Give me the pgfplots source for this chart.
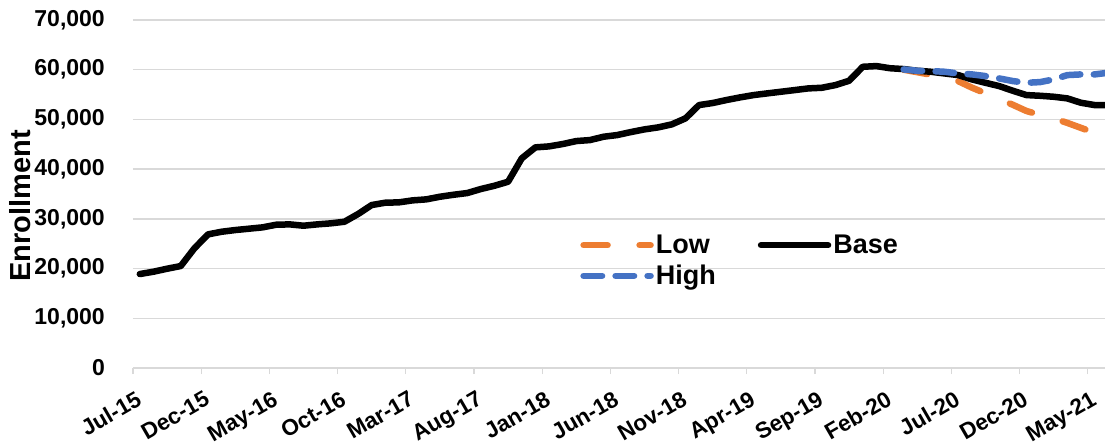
\documentclass[border=0pt]{standalone}
\usepackage{fontspec}
\setmainfont{Liberation Sans}
\usepackage{pgfplots}
\pgfplotsset{compat=1.18}
\definecolor{lowc}{HTML}{ED7D31}
\definecolor{highc}{HTML}{4472C4}
\definecolor{gridc}{HTML}{D9D9D9}
\begin{document}
\begin{tikzpicture}
\useasboundingbox (-133pt,-77pt) rectangle (972pt,368pt);
\begin{axis}[
  at={(0pt,0pt)}, anchor=south west,
  scale only axis, width=972pt, height=348pt,
  xmin=-0.5, xmax=70.76, ymin=0, ymax=70000,
  axis lines*=left,
  y axis line style={draw=none},
  x axis line style={draw=gridc, line width=1.3pt},
  ymajorgrids, grid style={draw=gridc, line width=1.3pt},
  ytick={0,10000,...,70000},
  ytick style={draw=none},
  xtick={-0.5,4.5,...,69.5},
  xticklabels={Jul-15,Dec-15,May-16,Oct-16,Mar-17,Aug-17,Jan-18,Jun-18,Nov-18,Apr-19,Sep-19,Feb-20,Jul-20,Dec-20,May-21},
  xtick style={draw=gridc, line width=1.3pt},
  tick align=outside, major tick length=6pt,
  scaled y ticks=false,
  /pgf/number format/.cd, 1000 sep={,}, assume math mode=true, /pgfplots/.cd,
  yticklabel style={font=\bfseries\fontsize{23}{27}\selectfont, anchor=east, inner sep=0pt, xshift=-22pt},
  xticklabel style={font=\bfseries\fontsize{22.5}{27}\selectfont, inner sep=0pt, xshift=2pt, yshift=-16pt, rotate=30, anchor=north east},
  ylabel={\bfseries\fontsize{29}{34}\selectfont Enrollment},
  every axis y label/.style={at={(rel axis cs:0,0.466)}, xshift=-113pt, rotate=90, anchor=center},
  legend columns=2,
  legend cell align=left,
  legend style={at={(rel axis cs:0.46,0.388)}, anchor=north west, draw=none, fill=none,
    font=\bfseries\fontsize{27}{31}\selectfont, inner sep=0pt, row sep=6pt,
    /tikz/every even column/.append style={column sep=40pt}},
  legend image code/.code={\draw[#1] (3pt,0pt) -- (70pt,0pt);},
  every axis plot/.append style={line width=6.5pt, line cap=round, line join=round},
]
\addplot[lowc, dash pattern=on 24pt off 32pt] coordinates {
(56,60000) (57,59500) (58,59000) (59,58500) (60,57700) (61,56400) (62,55250)
(63,54100) (64,52950) (65,51700) (66,50900) (67,50200) (68,49300) (69,48300) (70,47300)
};
\addlegendentry{Low}
\addplot[black] coordinates {
(0,18900) (1,19370) (2,19970) (3,20510) (4,24070) (5,26880) (6,27410) (7,27750)
(8,28020) (9,28290) (10,28820) (11,28890) (12,28620) (13,28890) (14,29100) (15,29420)
(16,30970) (17,32780) (18,33250) (19,33320) (20,33720) (21,33920) (22,34450) (23,34850)
(24,35190) (25,36000) (26,36660) (27,37470) (28,42170) (29,44380) (30,44580) (31,45050)
(32,45650) (33,45850) (34,46520) (35,46860) (36,47460) (37,48000) (38,48400) (39,49010)
(40,50210) (41,52890) (42,53300) (43,53900) (44,54430) (45,54900) (46,55240) (47,55570)
(48,55900) (49,56240) (50,56370) (51,56910) (52,57780) (53,60590) (54,60730) (55,60300)
(56,60130) (57,59790) (58,59590) (59,59250) (60,58920) (61,58050) (62,57370) (63,56710)
(64,55770) (65,54900) (66,54760) (67,54560) (68,54230) (69,53350) (70,52890) (71,52900)
};
\addlegendentry{Base}
\addplot[highc, dash pattern=on 18.5pt off 13.5pt] coordinates {
(56,60060) (57,59790) (58,59730) (59,59590) (60,59250) (61,59060) (62,58720) (63,58250)
(64,57720) (65,57370) (66,57510) (67,58050) (68,58920) (69,59060) (70,59060) (71,59390)
};
\addlegendentry{High}
\end{axis}
\end{tikzpicture}
\end{document}
